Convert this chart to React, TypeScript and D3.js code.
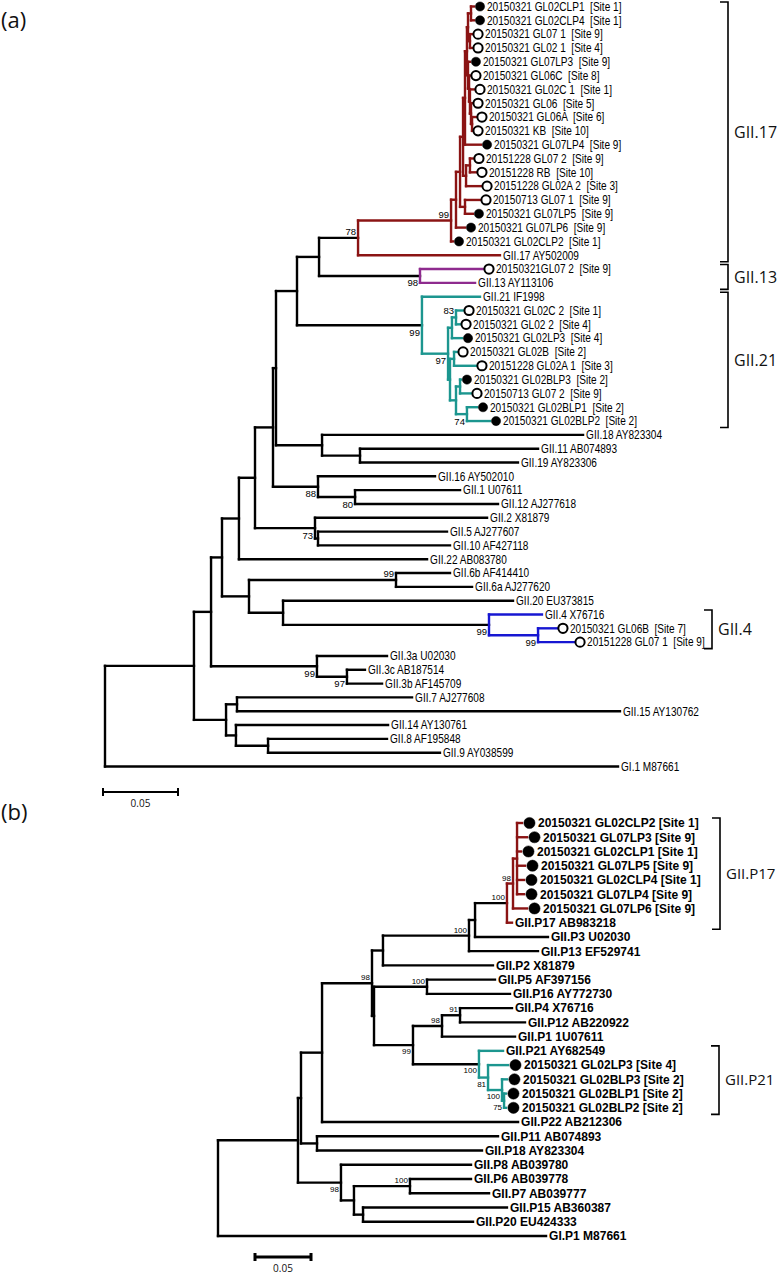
import React from 'react';
import * as d3 from 'd3';

type Row = [string, string, number];

// ---------- Panel (a): [id, parent, distance from root (subst./site)] ----------
const nodesA: Row[] = [
  ['rootA', '', 0],
  ['A', 'rootA', 0.0593],
  ['B', 'A', 0.0707],
  ['D', 'B', 0.078],
  ['E', 'D', 0.0893],
  ['P', 'E', 0.1],
  ['Q', 'P', 0.112],
  ['S', 'Q', 0.114],
  ['R', 'S', 0.128],
  ['T', 'R', 0.1427],
  ['n17', 'T', 0.1687],
  ['n17a', 'n17', 0.2307],
  ['n17b', 'n17a', 0.234],
  ['n17c', 'n17b', 0.2367],
  ['n17d', 'n17c', 0.2387],
  ['n17f', 'n17d', 0.24],
  ['n17i', 'n17f', 0.2413],
  ['n17j', 'n17i', 0.242],
  ['n17l', 'n17j', 0.244],
  ['a1', 'n17l', 0.246],
  ['a2', 'n17l', 0.246],
  ['n17m', 'n17j', 0.2433],
  ['a3', 'n17m', 0.2447],
  ['a4', 'n17m', 0.2447],
  ['n17k', 'n17i', 0.242],
  ['a5', 'n17k', 0.2433],
  ['n17n', 'n17k', 0.2427],
  ['a6', 'n17n', 0.2433],
  ['n17o', 'n17n', 0.2433],
  ['a7', 'n17o', 0.246],
  ['n17p', 'n17o', 0.244],
  ['a8', 'n17p', 0.2447],
  ['n17q', 'n17p', 0.2447],
  ['a9', 'n17q', 0.2473],
  ['a10', 'n17q', 0.2447],
  ['a11', 'n17f', 0.2507],
  ['n17g', 'n17d', 0.2407],
  ['n17h', 'n17g', 0.2433],
  ['a12', 'n17h', 0.2453],
  ['a13', 'n17h', 0.2473],
  ['a14', 'n17g', 0.2507],
  ['n17e', 'n17c', 0.24],
  ['a15', 'n17e', 0.25],
  ['a16', 'n17e', 0.2453],
  ['a17', 'n17b', 0.24],
  ['a18', 'n17a', 0.232],
  ['a19', 'n17', 0.2633],
  ['n13', 'T', 0.21],
  ['a20', 'n13', 0.252],
  ['a21', 'n13', 0.2467],
  ['n21', 'R', 0.2113],
  ['a22', 'n21', 0.25],
  ['n21b', 'n21', 0.2287],
  ['n21c', 'n21b', 0.2313],
  ['n21e', 'n21c', 0.234],
  ['a23', 'n21e', 0.2387],
  ['a24', 'n21e', 0.2367],
  ['a25', 'n21c', 0.238],
  ['n21d', 'n21b', 0.23],
  ['n21f', 'n21d', 0.2327],
  ['a26', 'n21f', 0.2347],
  ['a27', 'n21f', 0.2473],
  ['n21g', 'n21d', 0.234],
  ['n21h', 'n21g', 0.2367],
  ['a28', 'n21h', 0.2373],
  ['a29', 'n21h', 0.244],
  ['n21i', 'n21g', 0.2413],
  ['a30', 'n21i', 0.248],
  ['a31', 'n21i', 0.2567],
  ['n18', 'S', 0.1447],
  ['a32', 'n18', 0.3187],
  ['n1119', 'n18', 0.17],
  ['a33', 'n1119', 0.2887],
  ['a34', 'n1119', 0.2753],
  ['n16', 'Q', 0.142],
  ['a35', 'n16', 0.22],
  ['n112', 'n16', 0.1667],
  ['a36', 'n112', 0.2367],
  ['a37', 'n112', 0.262],
  ['n2', 'P', 0.14],
  ['a38', 'n2', 0.2547],
  ['n510', 'n2', 0.142],
  ['a39', 'n510', 0.228],
  ['a40', 'n510', 0.23],
  ['a41', 'E', 0.2147],
  ['F', 'D', 0.096],
  ['n6', 'F', 0.194],
  ['a42', 'n6', 0.23],
  ['a43', 'n6', 0.2447],
  ['n204', 'F', 0.1187],
  ['a44', 'n204', 0.272],
  ['n4', 'n204', 0.256],
  ['a45', 'n4', 0.2913],
  ['n4b', 'n4', 0.2887],
  ['a46', 'n4b', 0.3013],
  ['a47', 'n4b', 0.3127],
  ['n3', 'B', 0.1413],
  ['a48', 'n3', 0.188],
  ['n3bc', 'n3', 0.1613],
  ['a49', 'n3bc', 0.1733],
  ['a50', 'n3bc', 0.1847],
  ['C', 'A', 0.0807],
  ['C1', 'C', 0.088],
  ['a51', 'C1', 0.2047],
  ['a52', 'C1', 0.3433],
  ['C2', 'C', 0.0873],
  ['a53', 'C2', 0.1887],
  ['C3', 'C2', 0.1087],
  ['a54', 'C3', 0.188],
  ['a55', 'C3', 0.2233],
  ['a56', 'rootA', 0.342],
];

// [leaf id, label, marker]
const leavesA: [string, string, string][] = [
  ['a1', '20150321 GL02CLP1  [Site 1]', 'filled'],
  ['a2', '20150321 GL02CLP4  [Site 1]', 'filled'],
  ['a3', '20150321 GL07 1  [Site 9]', 'open'],
  ['a4', '20150321 GL02 1  [Site 4]', 'open'],
  ['a5', '20150321 GL07LP3  [Site 9]', 'filled'],
  ['a6', '20150321 GL06C  [Site 8]', 'open'],
  ['a7', '20150321 GL02C 1  [Site 1]', 'open'],
  ['a8', '20150321 GL06  [Site 5]', 'open'],
  ['a9', '20150321 GL06A  [Site 6]', 'open'],
  ['a10', '20150321 KB  [Site 10]', 'open'],
  ['a11', '20150321 GL07LP4  [Site 9]', 'filled'],
  ['a12', '20151228 GL07 2  [Site 9]', 'open'],
  ['a13', '20151228 RB  [Site 10]', 'open'],
  ['a14', '20151228 GL02A 2  [Site 3]', 'open'],
  ['a15', '20150713 GL07 1  [Site 9]', 'open'],
  ['a16', '20150321 GL07LP5  [Site 9]', 'filled'],
  ['a17', '20150321 GL07LP6  [Site 9]', 'filled'],
  ['a18', '20150321 GL02CLP2  [Site 1]', 'filled'],
  ['a19', 'GII.17 AY502009', ''],
  ['a20', '20150321GL07 2  [Site 9]', 'open'],
  ['a21', 'GII.13 AY113106', ''],
  ['a22', 'GII.21 IF1998', ''],
  ['a23', '20150321 GL02C 2  [Site 1]', 'open'],
  ['a24', '20150321 GL02 2  [Site 4]', 'open'],
  ['a25', '20150321 GL02LP3  [Site 4]', 'filled'],
  ['a26', '20150321 GL02B  [Site 2]', 'open'],
  ['a27', '20151228 GL02A 1  [Site 3]', 'open'],
  ['a28', '20150321 GL02BLP3  [Site 2]', 'filled'],
  ['a29', '20150713 GL07 2  [Site 9]', 'open'],
  ['a30', '20150321 GL02BLP1  [Site 2]', 'filled'],
  ['a31', '20150321 GL02BLP2  [Site 2]', 'filled'],
  ['a32', 'GII.18 AY823304', ''],
  ['a33', 'GII.11 AB074893', ''],
  ['a34', 'GII.19 AY823306', ''],
  ['a35', 'GII.16 AY502010', ''],
  ['a36', 'GII.1 U07611', ''],
  ['a37', 'GII.12 AJ277618', ''],
  ['a38', 'GII.2 X81879', ''],
  ['a39', 'GII.5 AJ277607', ''],
  ['a40', 'GII.10 AF427118', ''],
  ['a41', 'GII.22 AB083780', ''],
  ['a42', 'GII.6b AF414410', ''],
  ['a43', 'GII.6a AJ277620', ''],
  ['a44', 'GII.20 EU373815', ''],
  ['a45', 'GII.4 X76716', ''],
  ['a46', '20150321 GL06B  [Site 7]', 'open'],
  ['a47', '20151228 GL07 1  [Site 9]', 'open'],
  ['a48', 'GII.3a U02030', ''],
  ['a49', 'GII.3c AB187514', ''],
  ['a50', 'GII.3b AF145709', ''],
  ['a51', 'GII.7 AJ277608', ''],
  ['a52', 'GII.15 AY130762', ''],
  ['a53', 'GII.14 AY130761', ''],
  ['a54', 'GII.8 AF195848', ''],
  ['a55', 'GII.9 AY038599', ''],
  ['a56', 'GI.1 M87661', ''],
];

// [node id, bootstrap value, side]
const bootA: [string, number, string][] = [
  ['n17a', 99, 'above'], ['n17', 78, 'above'], ['n13', 98, 'below'], ['n21', 99, 'below'],
  ['n21e', 83, 'above'], ['n21b', 97, 'below'], ['n21i', 74, 'below'], ['n16', 88, 'below'],
  ['n112', 80, 'below'], ['n2', 73, 'below'], ['n6', 99, 'above'], ['n4', 99, 'below'],
  ['n4b', 99, 'below'], ['n3', 99, 'below'], ['n3bc', 97, 'below'],
];

const RED = '#8B1414';
const TEAL = '#1C968F';
const PURPLE = '#8E2B8E';
const BLUE = '#1717D2';

const cladesA: [string, string][] = [['n17', RED], ['n13', PURPLE], ['n21', TEAL], ['n4', BLUE]];
// [label, first leaf, last leaf]
const bracketsA: [string, string, string][] = [
  ['GII.17', 'a1', 'a19'], ['GII.13', 'a20', 'a21'], ['GII.21', 'a22', 'a31'], ['GII.4', 'a45', 'a47'],
];

// ---------- Panel (b) ----------
const nodesB: Row[] = [
  ['rootB', '', 0],
  ['B1', 'rootB', 0.0714],
  ['B2', 'B1', 0.0741],
  ['X', 'B2', 0.0929],
  ['Y', 'X', 0.1375],
  ['N383', 'Y', 0.1473],
  ['Z', 'N383', 0.2241],
  ['W', 'Z', 0.2295],
  ['V', 'W', 0.258],
  ['U', 'V', 0.2634],
  ['U1', 'U', 0.267],
  ['b1', 'U1', 0.2714],
  ['b2', 'U1', 0.2759],
  ['b3', 'U1', 0.2705],
  ['b4', 'U1', 0.2741],
  ['b5', 'U1', 0.2732],
  ['b6', 'U1', 0.2732],
  ['b7', 'U', 0.2759],
  ['b8', 'V', 0.2625],
  ['b9', 'W', 0.2946],
  ['b10', 'Z', 0.2857],
  ['b11', 'N383', 0.2455],
  ['Y2', 'Y', 0.1393],
  ['n516', 'Y2', 0.1866],
  ['b12', 'n516', 0.2473],
  ['b13', 'n516', 0.2607],
  ['n99', 'Y2', 0.1741],
  ['n98b', 'n99', 0.2],
  ['n91', 'n98b', 0.2161],
  ['b14', 'n91', 0.2625],
  ['b15', 'n91', 0.2741],
  ['b16', 'n98b', 0.2652],
  ['n21p', 'n99', 0.233],
  ['b17', 'n21p', 0.2545],
  ['n81', 'n21p', 0.2411],
  ['b18', 'n81', 0.2589],
  ['n100c', 'n81', 0.2536],
  ['b19', 'n100c', 0.258],
  ['n75', 'n100c', 0.2554],
  ['b20', 'n75', 0.2571],
  ['b21', 'n75', 0.2571],
  ['b22', 'X', 0.2679],
  ['n1118', 'B2', 0.0884],
  ['b23', 'n1118', 0.25],
  ['b24', 'n1118', 0.2357],
  ['n8', 'B1', 0.1098],
  ['b25', 'n8', 0.2259],
  ['n615', 'n8', 0.1214],
  ['n67', 'n615', 0.1714],
  ['b26', 'n67', 0.2259],
  ['b27', 'n67', 0.242],
  ['n1520', 'n615', 0.1295],
  ['b28', 'n1520', 0.258],
  ['b29', 'n1520', 0.2277],
  ['b30', 'rootB', 0.2929],
];

const leavesB: [string, string, string][] = [
  ['b1', '20150321 GL02CLP2 [Site 1]', 'filled'],
  ['b2', '20150321 GL07LP3 [Site 9]', 'filled'],
  ['b3', '20150321 GL02CLP1 [Site 1]', 'filled'],
  ['b4', '20150321 GL07LP5 [Site 9]', 'filled'],
  ['b5', '20150321 GL02CLP4 [Site 1]', 'filled'],
  ['b6', '20150321 GL07LP4 [Site 9]', 'filled'],
  ['b7', '20150321 GL07LP6 [Site 9]', 'filled'],
  ['b8', 'GII.P17 AB983218', ''],
  ['b9', 'GII.P3 U02030', ''],
  ['b10', 'GII.P13 EF529741', ''],
  ['b11', 'GII.P2 X81879', ''],
  ['b12', 'GII.P5 AF397156', ''],
  ['b13', 'GII.P16 AY772730', ''],
  ['b14', 'GII.P4 X76716', ''],
  ['b15', 'GII.P12 AB220922', ''],
  ['b16', 'GII.P1 1U07611', ''],
  ['b17', 'GII.P21 AY682549', ''],
  ['b18', '20150321 GL02LP3 [Site 4]', 'filled'],
  ['b19', '20150321 GL02BLP3 [Site 2]', 'filled'],
  ['b20', '20150321 GL02BLP1 [Site 2]', 'filled'],
  ['b21', '20150321 GL02BLP2 [Site 2]', 'filled'],
  ['b22', 'GII.P22 AB212306', ''],
  ['b23', 'GII.P11 AB074893', ''],
  ['b24', 'GII.P18 AY823304', ''],
  ['b25', 'GII.P8 AB039780', ''],
  ['b26', 'GII.P6 AB039778', ''],
  ['b27', 'GII.P7 AB039777', ''],
  ['b28', 'GII.P15 AB360387', ''],
  ['b29', 'GII.P20 EU424333', ''],
  ['b30', 'GI.P1 M87661', ''],
];

const bootB: [string, number, string][] = [
  ['U', 98, 'above'], ['V', 100, 'above'], ['Z', 100, 'above'], ['Y', 98, 'above'],
  ['n516', 100, 'above'], ['n91', 91, 'above'], ['n98b', 98, 'above'], ['n99', 99, 'below'],
  ['n21p', 100, 'below'], ['n81', 81, 'below'], ['n100c', 100, 'below'], ['n75', 75, 'below'],
  ['n8', 98, 'below'], ['n67', 100, 'above'],
];

const cladesB: [string, string][] = [['V', RED], ['n21p', TEAL]];
const bracketsB: [string, string, string][] = [['GII.P17', 'b1', 'b8'], ['GII.P21', 'b17', 'b21']];

const SCALE_BAR = 0.05;

type PNode = d3.HierarchyNode<Row> & { px: number; py: number; color: string };

function buildTree(rows: Row[], xs: d3.ScaleLinear<number, number>, yRange: [number, number], clades: [string, string][]) {
  const root = d3
    .stratify<Row>()
    .id((d) => d[0])
    .parentId((d) => (d[1] ? d[1] : null))(rows) as PNode;
  const leaves = root.leaves();
  const ys = d3.scalePoint<string>().domain(leaves.map((l) => l.id as string)).range(yRange);
  root.eachAfter((n: any) => {
    n.px = xs(n.data[2]);
    if (n.children) {
      n.py = (n.children[0].py + n.children[n.children.length - 1].py) / 2;
    } else {
      n.py = ys(n.id) as number;
    }
  });
  const cmap = new Map(clades);
  root.eachBefore((n: any) => {
    const own = cmap.get(n.id);
    n.color = own ? own : n.parent ? n.parent.color : '#000';
  });
  const byId = new Map<string, PNode>();
  root.each((n: any) => byId.set(n.id, n));
  return { root, byId };
}

interface PanelProps {
  rows: Row[];
  leaves: [string, string, string][];
  boots: [string, number, string][];
  clades: [string, string][];
  brackets: [string, string, string][];
  xs: d3.ScaleLinear<number, number>;
  yRange: [number, number];
  bold: boolean;
  strokeW: number;
  markerR: number;
  markerDx: number;
  labelDx: number;
  fontSize: number;
  squeeze: number;
  bootSize: number;
  bracketX: number[];
  bracketFont: number;
  bracketPad: [number, number];
  scaleBar: { x: number; y: number; w: number };
  tag: string;
  tagY: number;
}

function Panel(p: PanelProps) {
  const { root, byId } = buildTree(p.rows, p.xs, p.yRange, p.clades);
  const nodes = root.descendants() as PNode[];
  const leafInfo = new Map(p.leaves.map((l) => [l[0], l]));
  const barLen = p.xs(SCALE_BAR) - p.xs(0);
  const font = 'Liberation Sans, Arial, sans-serif';
  return (
    <g>
      <text x={1} y={p.tagY} fontFamily="Open Sans, sans-serif" fontSize={22} fill="#111">
        {p.tag}
      </text>
      {/* horizontal branches */}
      {nodes
        .filter((n) => n.parent)
        .map((n) => (
          <line
            key={'h' + n.id}
            x1={(n.parent as PNode).px}
            x2={n.px}
            y1={n.py}
            y2={n.py}
            stroke={(n.parent as PNode).color}
            strokeWidth={p.strokeW}
            strokeLinecap="square"
          />
        ))}
      {/* vertical connectors */}
      {nodes
        .filter((n) => n.children)
        .map((n) => {
          const c = n.children as PNode[];
          return (
            <line
              key={'v' + n.id}
              x1={n.px}
              x2={n.px}
              y1={c[0].py}
              y2={c[c.length - 1].py}
              stroke={n.color}
              strokeWidth={p.strokeW}
              strokeLinecap="square"
            />
          );
        })}
      {/* leaf markers and labels */}
      {root.leaves().map((l: any) => {
        const info = leafInfo.get(l.id);
        if (!info) return null;
        const marker = info[2];
        const lx = l.px + (marker ? p.labelDx : 3);
        return (
          <g key={'l' + l.id}>
            {marker && (
              <circle
                cx={l.px + p.markerDx}
                cy={l.py}
                r={p.markerR}
                fill={marker === 'filled' ? '#000' : '#fff'}
                stroke="#000"
                strokeWidth={marker === 'filled' ? 0.5 : 2}
              />
            )}
            <text
              transform={`translate(${lx},${l.py}) scale(${p.squeeze},1)`}
              dy="0.36em"
              fontFamily={font}
              fontSize={p.fontSize}
              fontWeight={p.bold ? 'bold' : 'normal'}
              fill="#000"
              style={{ whiteSpace: 'pre' }}
            >
              {info[1]}
            </text>
          </g>
        );
      })}
      {/* bootstrap values */}
      {p.boots.map(([id, v, side]) => {
        const n = byId.get(id);
        if (!n) return null;
        return (
          <text
            key={'b' + id}
            x={n.px - 2}
            y={side === 'above' ? n.py - 3 : n.py + p.bootSize + 1}
            textAnchor="end"
            fontFamily={font}
            fontSize={p.bootSize}
            fill="#000"
          >
            {v}
          </text>
        );
      })}
      {/* clade brackets */}
      {p.brackets.map(([lab, a, b], i) => {
        const y1 = (byId.get(a) as PNode).py - p.bracketPad[0];
        const y2 = (byId.get(b) as PNode).py + p.bracketPad[1];
        const bx = p.bracketX[i];
        return (
          <g key={'br' + lab}>
            <path
              d={`M${bx - 8},${y1}H${bx}V${y2}H${bx - 8}`}
              fill="none"
              stroke="#000"
              strokeWidth={1.6}
            />
            <text
              x={bx + 6}
              y={(y1 + y2) / 2}
              dy="0.36em"
              fontFamily="Open Sans, sans-serif"
              fontSize={p.bracketFont}
              fill="#111"
            >
              {lab}
            </text>
          </g>
        );
      })}
      {/* scale bar */}
      <g>
        <path
          d={`M${p.scaleBar.x},${p.scaleBar.y - 4}V${p.scaleBar.y + 4}M${p.scaleBar.x},${p.scaleBar.y}H${
            p.scaleBar.x + barLen
          }M${p.scaleBar.x + barLen},${p.scaleBar.y - 4}V${p.scaleBar.y + 4}`}
          fill="none"
          stroke="#000"
          strokeWidth={p.scaleBar.w}
        />
        <text
          x={p.scaleBar.x + barLen / 2}
          y={p.scaleBar.y + 15}
          textAnchor="middle"
          fontFamily="Open Sans, sans-serif"
          fontSize={10}
          fill="#111"
        >
          {SCALE_BAR.toFixed(2)}
        </text>
      </g>
    </g>
  );
}

export default function App() {
  const xsA = d3.scaleLinear().domain([0, 0.05]).range([105, 180]);
  const xsB = d3.scaleLinear().domain([0, 0.05]).range([218, 274]);
  return (
    <div>
      <style>{`body{margin:0}`}</style>
      <svg width={778} height={1275} viewBox="0 0 778 1275" style={{ display: 'block', background: '#fff' }}>
        <rect x={0} y={0} width={778} height={1275} fill="#fff" />
        <Panel
          rows={nodesA}
          leaves={leavesA}
          boots={bootA}
          clades={cladesA}
          brackets={bracketsA}
          xs={xsA}
          yRange={[6.5, 766.5]}
          bold={false}
          strokeW={2.4}
          markerR={4.6}
          markerDx={6}
          labelDx={13}
          fontSize={12}
          squeeze={0.84}
          bootSize={9.5}
          bracketX={[728, 728, 728, 712]}
          bracketFont={16}
          bracketPad={[4.5, 6.5]}
          scaleBar={{ x: 103, y: 792, w: 2 }}
          tag="(a)"
          tagY={28}
        />
        <Panel
          rows={nodesB}
          leaves={leavesB}
          boots={bootB}
          clades={cladesB}
          brackets={bracketsB}
          xs={xsB}
          yRange={[823, 1236]}
          bold={true}
          strokeW={2.4}
          markerR={5.6}
          markerDx={7.5}
          labelDx={16}
          fontSize={12}
          squeeze={1}
          bootSize={8}
          bracketX={[720, 719]}
          bracketFont={15}
          bracketPad={[5, 6.5]}
          scaleBar={{ x: 255, y: 1257, w: 3 }}
          tag="(b)"
          tagY={820}
        />
      </svg>
    </div>
  );
}
